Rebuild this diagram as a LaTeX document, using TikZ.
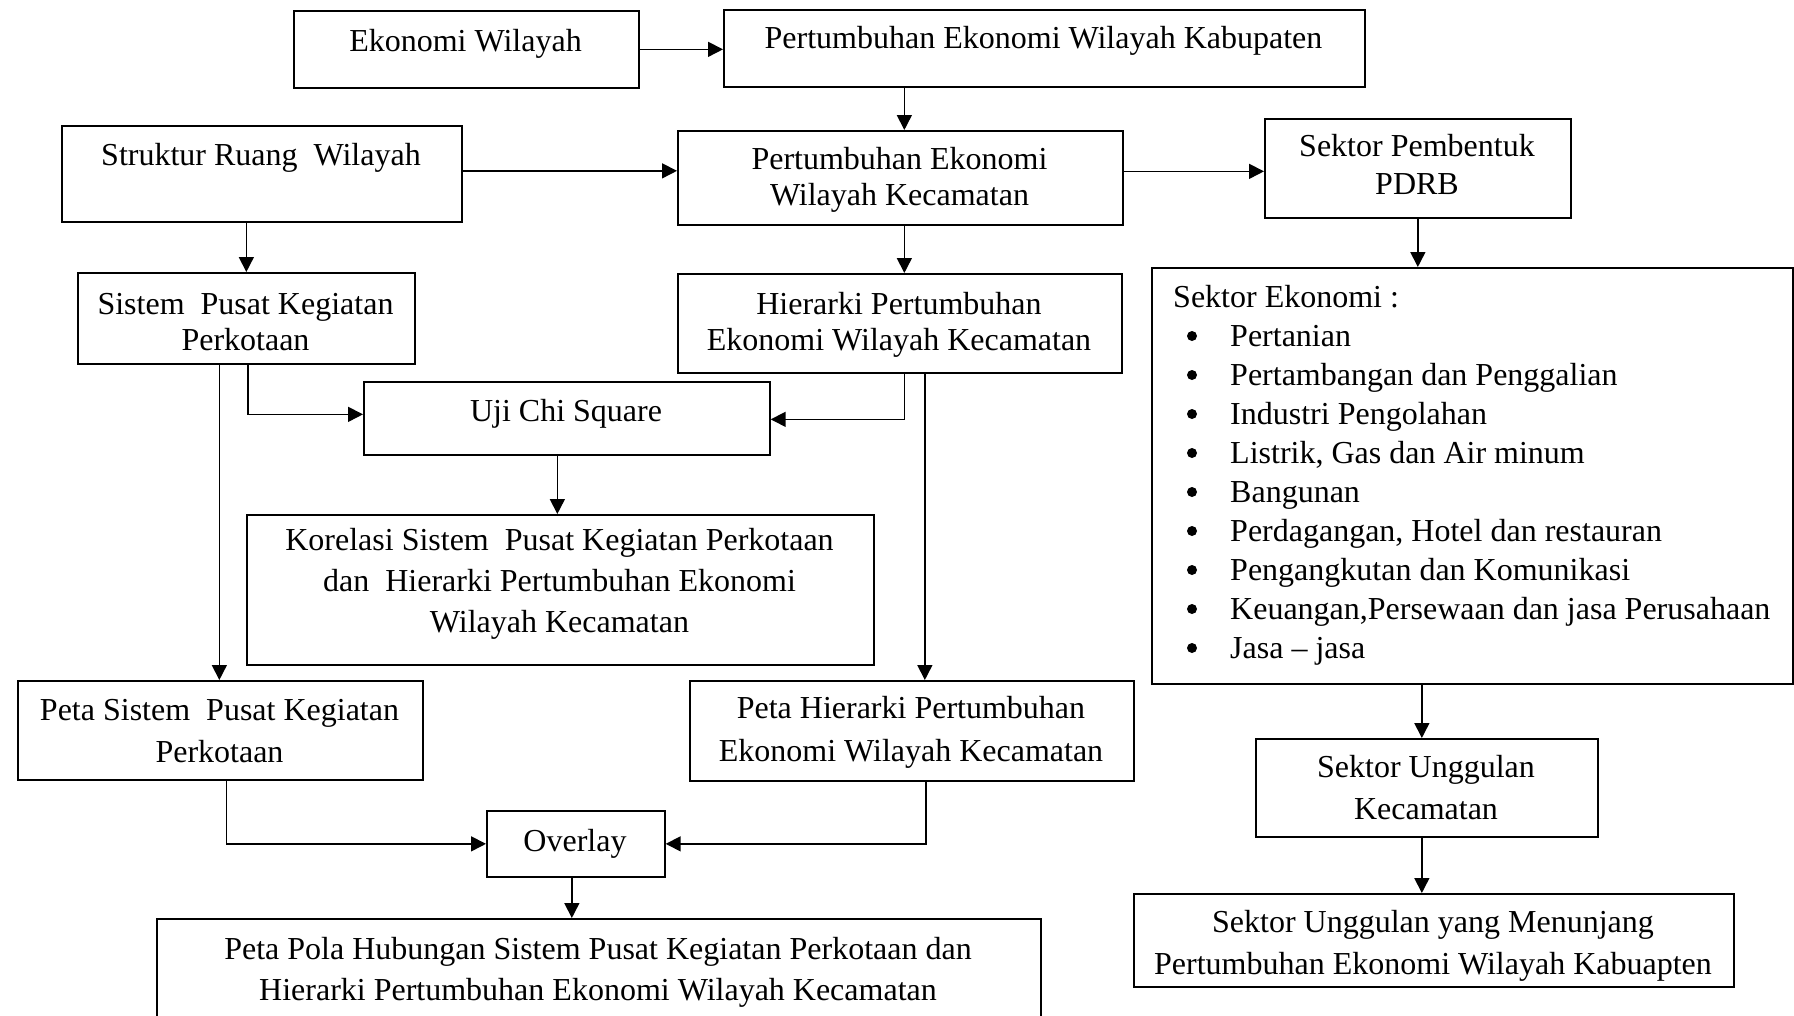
\documentclass[tikz,border=0pt]{standalone}
\usepackage{fontspec}
\setmainfont{Liberation Serif}
\usetikzlibrary{arrows.meta}
\begin{document}
\begin{tikzpicture}[x=1pt,y=-1pt,
  box/.style={draw, line width=1.7pt, inner sep=0pt, anchor=north west},
  txt/.style={inner sep=0pt, anchor=north, align=center, font=\fontsize{32}{#1}\selectfont},
  txt/.default=38,
  arr/.style={line width=1.6pt, -{Triangle[length=15pt,width=15pt]}}]
\fill[white] (0,0) rectangle (1794,1015);
\useasboundingbox (0,0) rectangle (1794,1015);

% boxes
\node[box, minimum width=345pt, minimum height=77pt] (eko) at (293,10) {};
\node[box, minimum width=641pt, minimum height=77pt] (kab) at (723,9) {};
\node[box, minimum width=400pt, minimum height=96pt] (str) at (61,125) {};
\node[box, minimum width=445pt, minimum height=94pt] (kec) at (677,130) {};
\node[box, minimum width=306pt, minimum height=99pt] (pdrb) at (1264,118) {};
\node[box, minimum width=337pt, minimum height=91pt] (sis) at (77,272) {};
\node[box, minimum width=444pt, minimum height=99pt] (hie) at (677,273) {};
\node[box, minimum width=641pt, minimum height=416pt] (sek) at (1151,267) {};
\node[box, minimum width=406pt, minimum height=73pt] (uji) at (363,381) {};
\node[box, minimum width=627pt, minimum height=150pt] (kor) at (246,514) {};
\node[box, minimum width=405pt, minimum height=99pt] (psis) at (17,680) {};
\node[box, minimum width=444pt, minimum height=100pt] (phie) at (689,680) {};
\node[box, minimum width=342pt, minimum height=98pt] (ung) at (1255,738) {};
\node[box, minimum width=178pt, minimum height=66pt] (ovl) at (486,810) {};
\node[box, minimum width=884pt, minimum height=120pt] (pola) at (156,918) {};
\node[box, minimum width=600pt, minimum height=93pt] (men) at (1133,893) {};

% texts
\node[txt] (eko-t) at (465.5,24.4) {\strut Ekonomi Wilayah};
\node[txt] (kab-t) at (1043.5,21.4) {\strut Pertumbuhan Ekonomi Wilayah Kabupaten};
\node[txt] (str-t) at (261,138.4) {\strut Struktur Ruang\ \ Wilayah};
\node[txt=36] (kec-t) at (899.5,143.8) {\strut Pertumbuhan Ekonomi\\\strut Wilayah Kecamatan};
\node[txt] (pdrb-t) at (1417,129.4) {\strut Sektor Pembentuk\\\strut PDRB};
\node[txt=36] (sis-t) at (245.5,288.8) {\strut Sistem\ \ Pusat Kegiatan\\\strut Perkotaan};
\node[txt=36] (hie-t) at (899,288.8) {\strut Hierarki Pertumbuhan\\\strut Ekonomi Wilayah Kecamatan};
\node[inner sep=0pt, anchor=north west, align=left, font=\fontsize{32}{39}\selectfont] (sek-t) at (1173,279.7)
  {\strut Sektor Ekonomi :\\
   \strut\hspace*{57pt}Pertanian\\
   \strut\hspace*{57pt}Pertambangan dan Penggalian\\
   \strut\hspace*{57pt}Industri Pengolahan\\
   \strut\hspace*{57pt}Listrik, Gas dan Air minum\\
   \strut\hspace*{57pt}Bangunan\\
   \strut\hspace*{57pt}Perdagangan, Hotel dan restauran\\
   \strut\hspace*{57pt}Pengangkutan dan Komunikasi\\
   \strut\hspace*{57pt}Keuangan,Persewaan dan jasa Perusahaan\\
   \strut\hspace*{57pt}Jasa -- jasa};
\foreach \k in {1,...,9} \fill (1192,{297+39*\k}) circle (5pt);
\node[txt] (uji-t) at (566,394.4) {\strut Uji Chi Square};
\node[txt=41] (kor-t) at (559.5,522) {\strut Korelasi Sistem\ \ Pusat Kegiatan Perkotaan\\\strut dan\ \ Hierarki Pertumbuhan Ekonomi\\\strut Wilayah Kecamatan};
\node[txt=42] (psis-t) at (219.5,690.6) {\strut Peta Sistem\ \ Pusat Kegiatan\\\strut Perkotaan};
\node[txt=43] (phie-t) at (911,687.9) {\strut Peta Hierarki Pertumbuhan\\\strut Ekonomi Wilayah Kecamatan};
\node[txt=42] (ung-t) at (1426,747.6) {\strut Sektor Unggulan\\\strut Kecamatan};
\node[txt] (ovl-t) at (575,824.4) {\strut Overlay};
\node[txt=41] (pola-t) at (598,930.3) {\strut Peta Pola Hubungan Sistem Pusat Kegiatan Perkotaan dan\\\strut Hierarki Pertumbuhan Ekonomi Wilayah Kecamatan};
\node[txt=42] (men-t) at (1433,902.6) {\strut Sektor Unggulan yang Menunjang\\\strut Pertumbuhan Ekonomi Wilayah Kabuapten};

% connectors
\draw[arr] (eko.east) -- (eko.east -| kab.west);
\draw[arr] ([xshift=4pt]kec.north |- kab.south) -- ([xshift=4pt]kec.north);
\draw[arr] ([yshift=3pt]str.east) -- ([yshift=3pt]str.east -| kec.west);
\draw[arr] ([yshift=-3pt]kec.east |- pdrb.west) -- ([yshift=-3pt]pdrb.west);
\draw[arr] (sis.north |- str.south) -- (sis.north);
\draw[arr] ([xshift=4pt]kec.south) -- ([xshift=4pt]kec.south |- hie.north);
\draw[arr] (pdrb.south) -- (pdrb.south |- sek.north);
\draw[arr] ([xshift=1.5pt]sis.south) |- ([yshift=4pt]uji.west);
\draw[arr] ([xshift=4.5pt]hie.south) |- ([yshift=-1pt]uji.east);
\draw[arr] ([xshift=-3pt]kor.north |- uji.south) -- ([xshift=-3pt]kor.north);
\draw[arr] ([xshift=-27pt]sis.south) -- ([xshift=-27pt]sis.south |- psis.north);
\draw[arr] ([xshift=25pt]hie.south) -- ([xshift=25pt]hie.south |- phie.north);
\draw[arr] ([xshift=6pt]psis.south) |- (ovl.west);
\draw[arr] ([xshift=14pt]phie.south) |- (ovl.east);
\draw[arr] ([xshift=-4pt]ovl.south) -- ([xshift=-4pt]ovl.south |- pola.north);
\draw[arr] ([xshift=-5pt]ung.north |- sek.south) -- ([xshift=-5pt]ung.north);
\draw[arr] ([xshift=-5pt]ung.south) -- ([xshift=-5pt]ung.south |- men.north);
\end{tikzpicture}
\end{document}
